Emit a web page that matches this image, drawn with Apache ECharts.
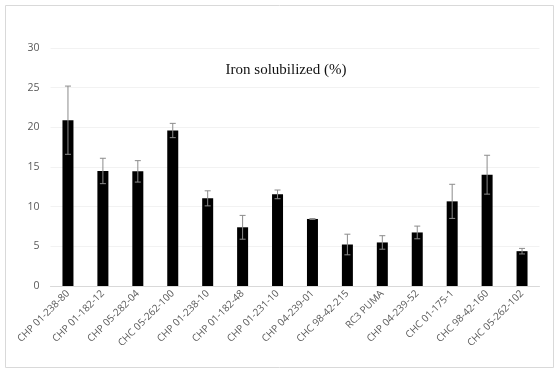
<!DOCTYPE html>
<html>
<head>
<meta charset="utf-8">
<script src="https://cdn.jsdelivr.net/npm/echarts@6/dist/echarts.min.js"></script>
<style>
  html, body { margin: 0; padding: 0; background: #fff; }
  #chart { width: 558px; height: 373px; }
</style>
</head>
<body>
<div id="chart"></div>
<script>
const categories = [
  'CHP 01-238-80', 'CHP 01-182-12', 'CHP 05-282-04', 'CHC 05-262-100',
  'CHP 01-238-10', 'CHP 01-182-48', 'CHP 01-231-10', 'CHP 04-239-01',
  'CHC 98-42-215', 'RC3 PUMA', 'CHP 04-239-52', 'CHC 01-175-1',
  'CHC 98-42-160', 'CHC 05-262-102'
];
const ironValues = [20.9, 14.5, 14.45, 19.6, 11.05, 7.4, 11.55, 8.45, 5.23, 5.49, 6.75, 10.67, 14.03, 4.39];
const ironErrors = [4.3, 1.6, 1.35, 0.9, 0.95, 1.5, 0.55, 0.05, 1.3, 0.85, 0.8, 2.15, 2.45, 0.35];
const yTicks = { min: 0, max: 30, interval: 5 };

const chart = echarts.init(document.getElementById('chart'));

const errorData = ironValues.map((v, i) => [i, v - ironErrors[i], v + ironErrors[i]]);

chart.setOption({
  animation: false,
  title: {
    text: 'Iron solubilized (%)',
    left: 281,
    top: 58,
    textAlign: 'center',
    textStyle: { fontFamily: 'Liberation Serif', fontSize: 15, fontWeight: 'normal', color: '#111' }
  },
  grid: { left: 50.5, right: 18.5, top: 48, bottom: 87 },
  xAxis: {
    type: 'category',
    data: categories,
    axisLine: { lineStyle: { color: '#d9d9d9' } },
    axisTick: { show: false },
    axisLabel: {
      rotate: 45,
      interval: 0,
      margin: 6,
      color: '#595959',
      fontFamily: 'Open Sans',
      fontSize: 10
    }
  },
  yAxis: {
    type: 'value',
    min: yTicks.min,
    max: yTicks.max,
    interval: yTicks.interval,
    axisLine: { show: false },
    axisTick: { show: false },
    axisLabel: { color: '#595959', fontFamily: 'Open Sans', fontSize: 10.5, margin: 11 },
    splitLine: { lineStyle: { color: '#f2f2f2' } }
  },
  series: [
    {
      type: 'bar',
      data: ironValues,
      barWidth: 11,
      itemStyle: { color: '#000' }
    },
    {
      type: 'custom',
      data: errorData,
      z: 10,
      renderItem: (params, api) => {
        const x = api.value(0);
        const lo = api.coord([x, api.value(1)]);
        const hi = api.coord([x, api.value(2)]);
        const cap = 3;
        const style = { stroke: '#8c8c8c', lineWidth: 1 };
        return {
          type: 'group',
          children: [
            { type: 'line', shape: { x1: hi[0], y1: hi[1], x2: lo[0], y2: lo[1] }, style },
            { type: 'line', shape: { x1: hi[0] - cap, y1: hi[1], x2: hi[0] + cap, y2: hi[1] }, style },
            { type: 'line', shape: { x1: lo[0] - cap, y1: lo[1], x2: lo[0] + cap, y2: lo[1] }, style }
          ]
        };
      }
    }
  ],
  graphic: [
    {
      type: 'rect',
      shape: { x: 5.5, y: 5.5, width: 548, height: 362 },
      style: { fill: 'none', stroke: '#d9d9d9', lineWidth: 1 },
      silent: true
    }
  ]
});
</script>
</body>
</html>
